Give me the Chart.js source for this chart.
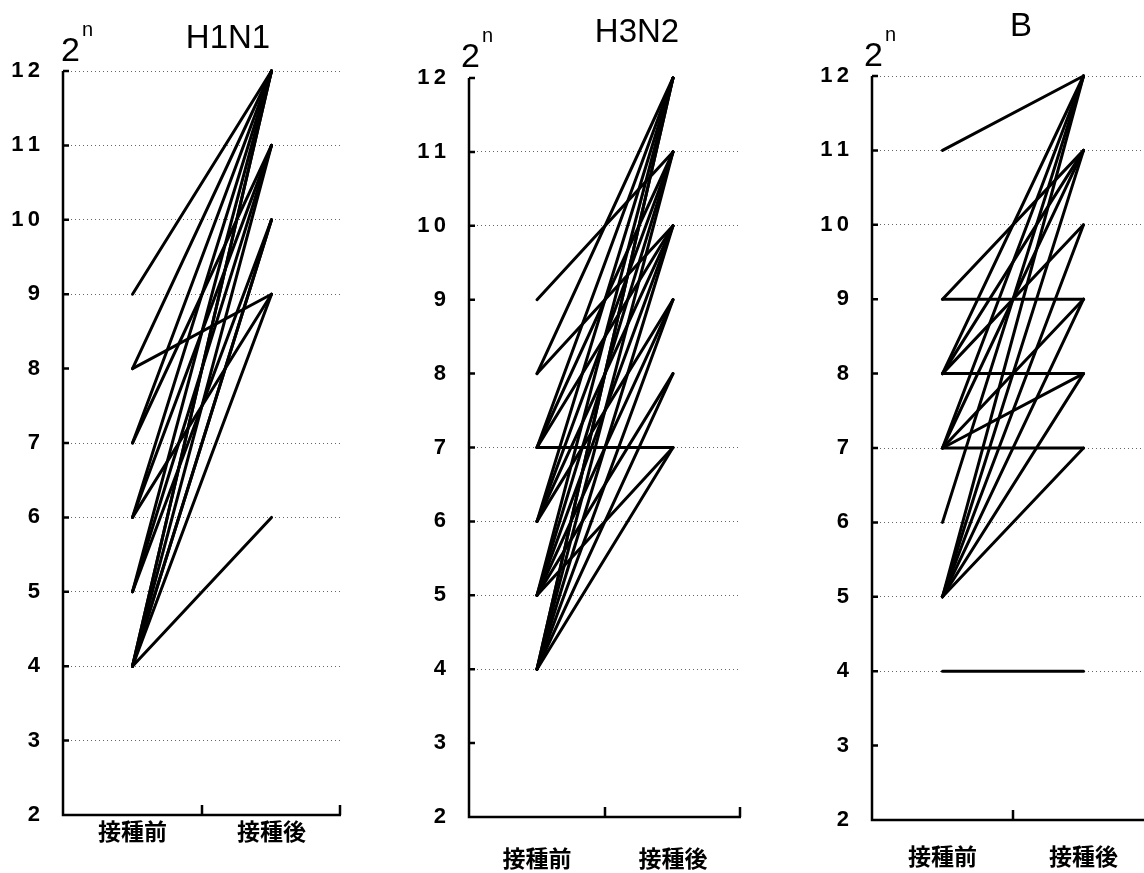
<!DOCTYPE html>
<html>
<head>
<meta charset="utf-8">
<script src="https://cdn.jsdelivr.net/npm/chart.js@4.4.0/dist/chart.umd.min.js"></script>
<style>
  html, body { margin: 0; padding: 0; background: #fff; }
  #page { position: relative; width: 1144px; height: 873px; overflow: hidden; background: #fff; }
  .panel { position: absolute; top: 0; }
  .title { position: absolute; transform: translate(-50%, -50%); font-family: "Liberation Sans", Arial, sans-serif;
           font-size: 33px; line-height: 1; color: #000; white-space: nowrap; }
  .unit { position: absolute; font-family: "Liberation Sans", Arial, sans-serif; font-size: 34px; line-height: 1; color: #000; white-space: nowrap; }
  .unit span { font-size: 20px; position: relative; top: -25px; margin-left: 2px; }
</style>
</head>
<body>
<div id="page">
  <canvas id="c1" class="panel" width="346" height="873" style="left:0px"></canvas>
  <canvas id="c2" class="panel" width="340" height="873" style="left:406px"></canvas>
  <canvas id="c3" class="panel" width="350" height="873" style="left:809px"></canvas>

  <div class="title" style="left:228px;top:36px">H1N1</div>
  <div class="title" style="left:637px;top:30px">H3N2</div>
  <div class="title" style="left:1021px;top:24px">B</div>

  <div class="unit" style="left:61px;top:32px">2<span>n</span></div>
  <div class="unit" style="left:461px;top:38px">2<span>n</span></div>
  <div class="unit" style="left:864px;top:37px">2<span>n</span></div>
</div>

<script>
// 接種前 / 接種後 の抗体価 (2^n)
const groups = ['接種前', '接種後'];

const h1n1Before = [9, 8, 8, 7, 7, 6, 6, 6, 5, 5, 5, 4, 4, 4, 4, 4, 4, 4];
const h1n1After  = [12, 9, 12, 11, 12, 9, 11, 12, 10, 11, 12, 6, 9, 10, 11, 12, 12, 10];

const h3n2Before = [9, 8, 8, 7, 7, 7, 7, 6, 6, 6, 6, 5, 5, 5, 5, 5, 5, 4, 4, 4, 4, 4, 4, 4];
const h3n2After  = [11, 10, 12, 7, 10, 11, 12, 9, 10, 11, 12, 7, 8, 9, 10, 11, 12, 7, 8, 9, 10, 11, 12, 12];

const bBefore = [11, 9, 9, 8, 8, 8, 8, 7, 7, 7, 7, 7, 6, 5, 5, 5, 5, 5, 5, 4];
const bAfter  = [12, 9, 11, 8, 10, 11, 12, 7, 8, 9, 11, 12, 12, 7, 8, 9, 10, 11, 12, 4];

// 点線の横線が見えている目盛り
const h1n1Grid = [12, 11, 10, 9, 7, 6, 5, 4, 3];
const h3n2Grid = [11, 10, 7, 6, 5, 4];
const bGrid    = [12, 11, 10, 7, 6, 5, 4];

const numFont = "'Liberation Sans', Arial, sans-serif";
const cjkFont = "'Noto Sans CJK JP', 'Noto Sans CJK SC', sans-serif";

// 軸線と内向きの目盛り線
const axisMarks = {
    id: 'axisMarks',
    afterDraw(chart) {
        const { ctx, chartArea: a, scales: { x, y } } = chart;
        ctx.save();
        ctx.strokeStyle = '#000';
        ctx.lineWidth = 2.5;
        ctx.beginPath();
        ctx.moveTo(a.left, a.top);
        ctx.lineTo(a.left, a.bottom);
        ctx.lineTo(a.right, a.bottom);
        y.ticks.forEach(t => {
            const py = y.getPixelForValue(t.value);
            ctx.moveTo(a.left, py);
            ctx.lineTo(a.left + 6, py);
        });
        const mid = (x.getPixelForValue(0) + x.getPixelForValue(1)) / 2;
        [mid, a.right - 1].forEach(px => {
            ctx.moveTo(px, a.bottom);
            ctx.lineTo(px, a.bottom - 10);
        });
        ctx.stroke();
        ctx.restore();
    }
};

function pairDatasets(before, after) {
    return before.map((b, i) => ({
        data: [b, after[i]],
        borderColor: '#000',
        borderWidth: 3,
        borderCapStyle: 'round',
        pointRadius: 0,
        tension: 0,
        clip: false
    }));
}

function makePanel(id, before, after, gridValues, box) {
    return new Chart(document.getElementById(id), {
        type: 'line',
        data: { labels: groups, datasets: pairDatasets(before, after) },
        options: {
            responsive: false,
            animation: false,
            events: [],
            layout: { padding: { top: box.top, right: 5, left: 0, bottom: 0 } },
            plugins: { legend: { display: false }, tooltip: { enabled: false } },
            scales: {
                x: {
                    type: 'category',
                    offset: true,
                    grid: { display: false },
                    border: { display: false },
                    ticks: {
                        color: '#000', padding: box.labelPad, maxRotation: 0, autoSkip: false,
                        font: { family: cjkFont, size: 23, weight: 'bold' }
                    },
                    afterFit: s => { s.height = 873 - box.bottom; }
                },
                y: {
                    min: 2, max: 12,
                    ticks: {
                        stepSize: 1, color: '#000', padding: 23,
                        font: { family: numFont, size: 22, weight: 'bold' },
                        callback: v => String(v).split('').join('\u2009')
                    },
                    grid: {
                        drawTicks: false, lineWidth: 1,
                        color: c => gridValues.includes(c.tick && c.tick.value) ? '#666' : 'rgba(0,0,0,0)'
                    },
                    border: { display: false, dash: [1, 3] },
                    afterFit: s => { s.width = 63; }
                }
            }
        },
        plugins: [axisMarks]
    });
}

makePanel('c1', h1n1Before, h1n1After, h1n1Grid, { top: 71, bottom: 815, labelPad: -6 });
makePanel('c2', h3n2Before, h3n2After, h3n2Grid, { top: 78, bottom: 817, labelPad: 19 });
makePanel('c3', bBefore, bAfter, bGrid, { top: 76, bottom: 820, labelPad: 14 });
</script>
</body>
</html>
